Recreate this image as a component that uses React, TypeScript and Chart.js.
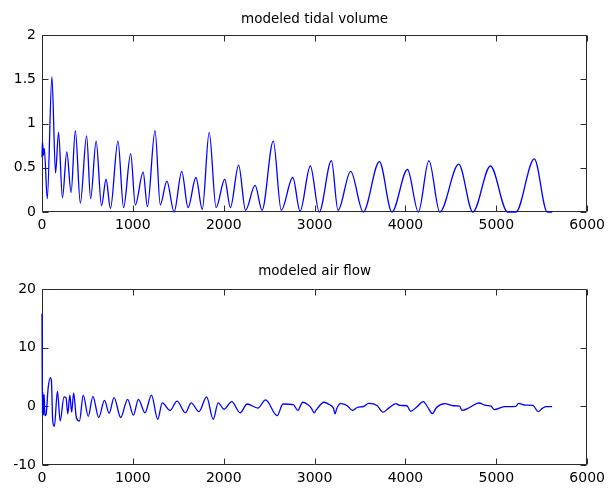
import React, { useEffect, useRef } from "react";
import { Chart, registerables } from "chart.js";
Chart.register(...registerables);

const xTicks = [0, 1000, 2000, 3000, 4000, 5000, 6000];
const volumeTicks = [0, 0.5, 1, 1.5, 2];
const flowTicks = [-10, 0, 10, 20];
const volumeTitle = "modeled tidal volume";
const flowTitle = "modeled air flow";

const volumeT = [0, 5, 15, 25, 58, 109, 149, 182, 225, 273, 320, 367, 422, 491, 535, 596, 655, 705, 753, 836, 898, 976, 1027, 1113, 1160, 1244, 1302, 1374, 1454, 1538, 1607, 1694, 1764, 1840, 1916, 2011, 2073, 2164, 2240, 2345, 2422, 2545, 2633, 2760, 2840, 2953, 3051, 3185, 3258, 3397, 3535, 3713, 3851, 4022, 4142, 4258, 4378, 4586, 4742, 4935, 5124, 5215, 5418, 5560, 5615];
const volumeV = [0.62, 0.8, 0.64, 0.72, 0.15, 1.53, 0.44, 0.9, 0.16, 0.68, 0.22, 0.92, 0.1, 0.86, 0.15, 0.8, 0.07, 0.37, 0.04, 0.8, 0.05, 0.66, 0.08, 0.45, 0.06, 0.92, 0.08, 0.35, 0.0, 0.46, 0.05, 0.39, 0.03, 0.9, 0.05, 0.37, 0.05, 0.53, 0.02, 0.3, 0.02, 0.8, 0.02, 0.39, 0.01, 0.52, 0.0, 0.58, 0.02, 0.46, 0.0, 0.57, 0.0, 0.48, 0.0, 0.58, 0.0, 0.54, 0.0, 0.52, 0.0, 0.0, 0.6, 0.0, 0.0];

const flowT = [0, 4, 10, 16, 24, 32, 45, 68, 93, 104, 118, 136, 170, 200, 242, 264, 284, 306, 327, 348, 378, 412, 454, 509, 560, 624, 688, 739, 793, 866, 942, 1006, 1061, 1133, 1205, 1273, 1324, 1409, 1486, 1579, 1642, 1727, 1812, 1884, 1939, 2003, 2088, 2181, 2257, 2376, 2460, 2588, 2652, 2766, 2815, 2869, 2924, 2964, 2996, 3014, 3105, 3160, 3207, 3225, 3243, 3287, 3360, 3415, 3469, 3542, 3596, 3687, 3752, 3815, 3894, 3942, 4015, 4058, 4124, 4196, 4251, 4295, 4342, 4433, 4524, 4596, 4622, 4705, 4807, 4887, 4942, 4978, 5087, 5215, 5244, 5324, 5404, 5459, 5506, 5550, 5614];
const flowV = [15.8, -1.2, 2.4, -1.5, 2.0, -1.6, -1.4, 3.2, 4.9, 4.3, -2.5, -3.4, 2.6, -2.5, 1.6, 1.5, -1.3, 1.9, -1.0, 2.3, -1.9, -2.5, 1.9, -1.7, 1.7, -1.9, 1.0, -1.2, 1.5, -1.9, 1.2, -1.5, 1.2, -1.1, 1.9, -2.2, 0.6, -0.7, 0.9, -1.1, 0.6, -0.9, 1.6, -2.2, 0.6, -0.5, 0.8, -1.1, 0.4, -0.3, 1.1, -1.6, 0.4, 0.3, -0.7, 0.7, 0.3, -0.3, -1.1, -0.7, 0.7, 0.3, -0.3, -1.3, -0.4, 0.45, 0.1, -0.7, -0.2, 0, 0.5, 0.15, -1.0, -0.3, 0.45, 0.15, 0.1, -0.85, -0.1, 0.8, -0.3, -1.25, -0.2, 0.45, 0.1, 0.05, -0.7, -0.2, 0.57, 0.15, 0.05, -0.57, -0.05, 0, 0.5, 0.2, 0.15, -0.9, -0.35, -0.05, -0.05];

const FONT = "'DejaVu Sans', sans-serif";

const matlabBox = {
  id: "matlabBox",
  beforeDatasetsDraw(chart: any, _args: any, opts: any) {
    const { ctx, chartArea: a, scales } = chart;
    const L = Math.floor(a.left) + 0.5;
    const R = Math.floor(a.right) - 0.5;
    const T = Math.floor(a.top) + 0.5;
    const B = Math.floor(a.bottom) - 0.5;
    const tl = 6;
    ctx.save();
    ctx.strokeStyle = "#2b2b2b";
    ctx.lineWidth = 1;
    ctx.beginPath();
    ctx.rect(L, T, R - L, B - T);
    for (const t of scales.x.ticks) {
      const px = Math.round(scales.x.getPixelForValue(t.value)) + 0.5;
      ctx.moveTo(px, B);
      ctx.lineTo(px, B - tl);
      ctx.moveTo(px, T);
      ctx.lineTo(px, T + tl);
    }
    for (const t of scales.y.ticks) {
      const py = Math.round(scales.y.getPixelForValue(t.value)) + 0.5;
      ctx.moveTo(L, py);
      ctx.lineTo(L + tl, py);
      ctx.moveTo(R, py);
      ctx.lineTo(R - tl, py);
    }
    ctx.stroke();
    ctx.fillStyle = "#000";
    ctx.font = `13.5px ${FONT}`;
    ctx.textAlign = "center";
    ctx.textBaseline = "alphabetic";
    ctx.fillText(opts.text, (a.left + a.right) / 2, a.top - opts.gap);
    ctx.restore();
  },
};

function makeConfig(
  t: number[],
  v: number[],
  yTicks: number[],
  title: string,
  padTop: number,
  xHeight: number,
  gap: number
): any {
  const tickFont = { family: FONT, size: 14 };
  return {
    type: "line",
    data: {
      datasets: [
        {
          data: t.map((x, i) => ({ x, y: v[i] })),
          borderColor: "#0000ff",
          borderWidth: 1.3,
          pointRadius: 0,
          fill: false,
          tension: 0.4,
          cubicInterpolationMode: "monotone",
          clip: 2,
        },
      ],
    },
    options: {
      responsive: false,
      animation: false,
      devicePixelRatio: 1,
      layout: { padding: { top: padTop, right: 18, left: 0, bottom: 0 } },
      plugins: {
        legend: { display: false },
        tooltip: { enabled: false },
        title: { display: false },
        matlabBox: { text: title, gap },
      },
      scales: {
        x: {
          type: "linear",
          min: xTicks[0],
          max: xTicks[xTicks.length - 1],
          grid: { display: false, drawTicks: false },
          border: { display: false },
          afterBuildTicks: (s: any) => {
            s.ticks = xTicks.map((value) => ({ value }));
          },
          afterFit: (s: any) => {
            s.height = xHeight;
          },
          ticks: {
            autoSkip: false,
            maxRotation: 0,
            padding: 5,
            color: "#000",
            font: tickFont,
            callback: (val: any) => String(val),
          },
        },
        y: {
          type: "linear",
          min: yTicks[0],
          max: yTicks[yTicks.length - 1],
          grid: { display: false, drawTicks: false },
          border: { display: false },
          afterBuildTicks: (s: any) => {
            s.ticks = yTicks.map((value) => ({ value }));
          },
          afterFit: (s: any) => {
            s.width = 42;
          },
          ticks: {
            autoSkip: false,
            padding: 6,
            color: "#000",
            font: tickFont,
            callback: (val: any) => String(val),
          },
        },
      },
    },
    plugins: [matlabBox],
  };
}

export default function App() {
  const topRef = useRef<HTMLCanvasElement | null>(null);
  const botRef = useRef<HTMLCanvasElement | null>(null);

  useEffect(() => {
    const c1 = new Chart(
      topRef.current as HTMLCanvasElement,
      makeConfig(volumeT, volumeV, volumeTicks, volumeTitle, 35, 34, 12)
    );
    const c2 = new Chart(
      botRef.current as HTMLCanvasElement,
      makeConfig(flowT, flowV, flowTicks, flowTitle, 43, 27, 14)
    );
    return () => {
      c1.destroy();
      c2.destroy();
    };
  }, []);

  return (
    <div
      style={{
        position: "absolute",
        left: 0,
        top: 0,
        width: 610,
        height: 492,
        background: "#fff",
      }}
    >
      <canvas
        ref={topRef}
        width={610}
        height={246}
        style={{ display: "block", width: 610, height: 246 }}
      />
      <canvas
        ref={botRef}
        width={610}
        height={246}
        style={{ display: "block", width: 610, height: 246 }}
      />
    </div>
  );
}
